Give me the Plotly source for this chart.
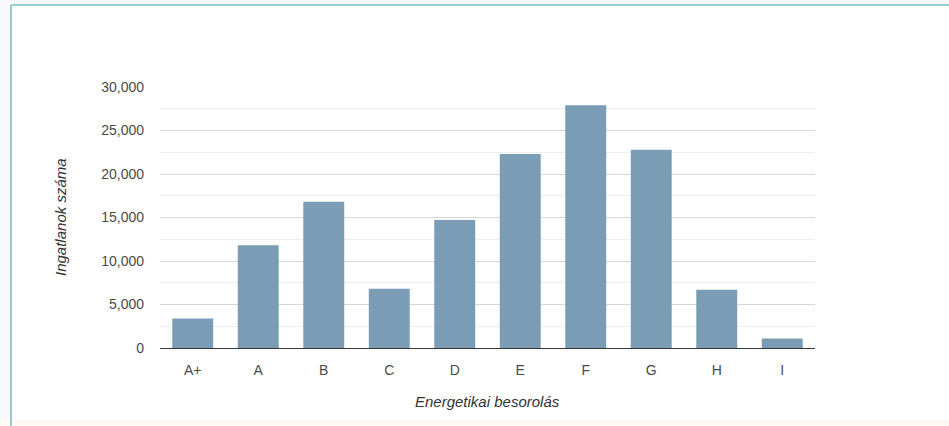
import plotly.graph_objects as go

# Number of properties per energy-efficiency class
categories = ["A+", "A", "B", "C", "D", "E", "F", "G", "H", "I"]
counts = [3400, 11800, 16800, 6800, 14700, 22300, 27900, 22800, 6700, 1100]
y_ticks = [0, 5000, 10000, 15000, 20000, 25000, 30000]
y_tick_labels = ["0", "5,000", "10,000", "15,000", "20,000", "25,000", "30,000"]

W, H = 949, 426
L, R, T, B = 160, 134, 87, 78
PW, PH = W - L - R, H - T - B


def px(x):
    return (x - L) / PW


def py(y):
    return (H - B - y) / PH


fig = go.Figure(
    go.Bar(
        x=categories,
        y=counts,
        marker=dict(color="#7a9db5", line=dict(width=0)),
        hoverinfo="x+y",
    )
)

font = "Liberation Sans, Arial, sans-serif"

fig.update_layout(
    width=W,
    height=H,
    margin=dict(l=L, r=R, t=T, b=B, pad=0),
    paper_bgcolor="#f8f7f9",
    plot_bgcolor="rgba(0,0,0,0)",
    bargap=0.375,
    showlegend=False,
    font=dict(family=font, size=14, color="#4a4a4a"),
    xaxis=dict(
        type="category",
        showgrid=False,
        showline=True,
        linecolor="#3a3a3a",
        linewidth=1.3,
        ticks="",
        ticklabelstandoff=9,
        tickfont=dict(size=14, color="#4a4a4a"),
        fixedrange=True,
    ),
    yaxis=dict(
        range=[0, 30000],
        tickvals=y_ticks,
        ticktext=y_tick_labels,
        showgrid=True,
        gridcolor="#d6d6d6",
        gridwidth=1,
        zeroline=False,
        showline=False,
        ticks="",
        ticklabelstandoff=15,
        tickfont=dict(size=14, color="#4a4a4a"),
        minor=dict(dtick=2500, tick0=0, showgrid=True, gridcolor="#ededed", gridwidth=1),
        fixedrange=True,
    ),
    shapes=[
        # white card with a teal frame on its left and top edges
        dict(type="rect", xref="paper", yref="paper",
             x0=px(11), x1=px(W + 5), y0=py(420), y1=py(5),
             fillcolor="#ffffff", line=dict(width=0), layer="below"),
        dict(type="rect", xref="paper", yref="paper",
             x0=px(0), x1=px(W + 5), y0=py(H + 5), y1=py(420),
             fillcolor="#fffaf4", line=dict(width=0), layer="below"),
        dict(type="line", xref="paper", yref="paper",
             x0=px(11), x1=px(11), y0=py(H + 5), y1=py(5),
             line=dict(color="#7fb4bd", width=1.5)),
        dict(type="line", xref="paper", yref="paper",
             x0=px(11), x1=px(W + 5), y0=py(5), y1=py(5),
             line=dict(color="#78c0bc", width=1.5)),
    ],
    annotations=[
        dict(text="<i>Ingatlanok száma</i>", xref="paper", yref="paper",
             x=px(60), y=py(217), textangle=-90, showarrow=False,
             xanchor="center", yanchor="middle",
             font=dict(family=font, size=15, color="#333333")),
        dict(text="<i>Energetikai besorolás</i>", xref="paper", yref="paper",
             x=px(487), y=py(401), showarrow=False,
             xanchor="center", yanchor="middle",
             font=dict(family=font, size=15, color="#333333")),
    ],
)

fig.write_html("out.html", config={"displayModeBar": False})
